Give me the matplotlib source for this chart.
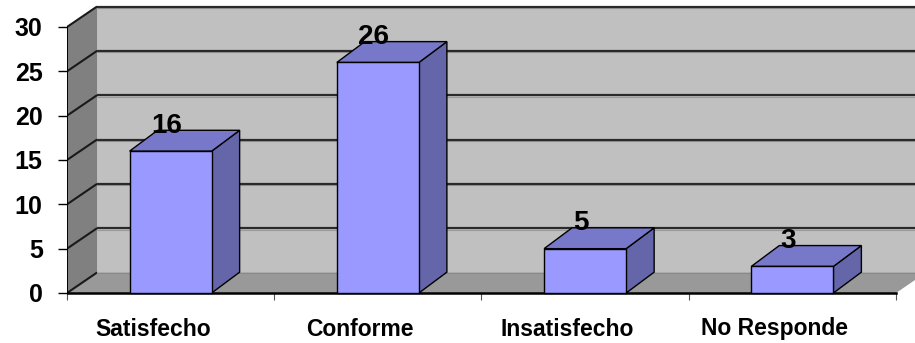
import matplotlib
matplotlib.use("Agg")
import matplotlib.pyplot as plt
from matplotlib.patches import Polygon

categories = ["Satisfecho", "Conforme", "Insatisfecho", "No Responde"]
values = [16, 26, 5, 3]
yticks = [0, 5, 10, 15, 20, 25, 30]

plt.rcParams["font.family"] = ["Liberation Sans", "DejaVu Sans"]
plt.rcParams["font.weight"] = "bold"

W, H = 915, 343
PPU = 8.867                      # pixels per value unit
fig = plt.figure(figsize=(W / 100, H / 100), dpi=100)
fig.patch.set_facecolor("white")
ax_h = 300 - 4.0
ax = fig.add_axes([67 / W, 43 / H, 848 / W, ax_h / H])
ax.set_xlim(0, 4.0917)
ax.set_ylim(-7 / PPU, -7 / PPU + ax_h / PPU)
for s in ax.spines.values():
    s.set_visible(False)
ax.set_facecolor("none")

n = len(categories)
ymax = yticks[-1]
DX, DY = 0.145, 2.31      # depth of the walls (x in categories, y in value units)
BDX, BDY = 0.135, 2.35    # depth of the bars
HALF = 0.198              # half width of a bar front

# walls and floor
ax.add_patch(Polygon([(DX, DY), (n + 1, DY), (n + 1, ymax + DY), (DX, ymax + DY)],
                     closed=True, fc="#C0C0C0", ec="none", zorder=0))
ax.add_patch(Polygon([(0, 0), (DX, DY), (DX, ymax + DY), (0, ymax)],
                     closed=True, fc="#808080", ec="none", zorder=1))
ax.add_patch(Polygon([(0, 0), (DX, DY), (n + DX, DY), (n, 0)],
                     closed=True, fc="#999999", ec="none", zorder=1))

# gridlines on side wall and back wall
for v in yticks:
    ax.plot([0, DX], [v, v + DY], color="#1a1a1a", lw=1.5, zorder=2,
            solid_capstyle="butt")
    if v > 0:
        ax.plot([DX, n + 1], [v + DY - 0.17, v + DY - 0.17], color="#9a9a9a",
                lw=0.8, zorder=2, solid_capstyle="butt")
        ax.plot([DX, n + 1], [v + DY, v + DY], color="#2a2a2a", lw=1.6,
                zorder=2, solid_capstyle="butt")
ax.plot([DX, n + 1], [DY, DY], color="#8a8a8a", lw=0.8, zorder=2)

# front axis lines
ax.plot([0, 0], [0, ymax], color="black", lw=1.4, zorder=3)
ax.plot([0, n], [0, 0], color="black", lw=1.8, zorder=3)

# bars
for i, v in enumerate(values):
    c = i + 0.5
    x0, x1 = c - HALF, c + HALF
    front = [(x0, 0), (x1, 0), (x1, v), (x0, v)]
    top = [(x0, v), (x1, v), (x1 + BDX, v + BDY), (x0 + BDX, v + BDY)]
    side = [(x1, 0), (x1 + BDX, BDY), (x1 + BDX, v + BDY), (x1, v)]
    ax.add_patch(Polygon(side, closed=True, fc="#6565AA", ec="black", lw=1.0, zorder=4))
    ax.add_patch(Polygon(top, closed=True, fc="#7878CA", ec="black", lw=1.0, zorder=4))
    ax.add_patch(Polygon(front, closed=True, fc="#9999FF", ec="black", lw=1.0, zorder=5))
    ax.text(c - 0.02, v + 2.85, str(v), ha="center", va="center",
            fontsize=20, fontweight="bold", color="black", zorder=6)

# value axis ticks
ax.set_yticks(yticks)
ax.set_yticklabels([str(t) for t in yticks])
ax.tick_params(axis="y", length=6.5, width=1.0, pad=11, labelsize=18,
               color="black")

# category dividers
ax.set_xticks(range(n + 1))
ax.set_xticklabels([])
ax.tick_params(axis="x", direction="in", length=5, width=0.8, color="#555555")

# category labels
for i, name in enumerate(categories):
    ax.text(i + 0.5 - 0.085, -36 / PPU, name, ha="center",
            va="center", fontsize=16.5, fontweight="bold", color="black")

fig.savefig("out.png", dpi=100)
